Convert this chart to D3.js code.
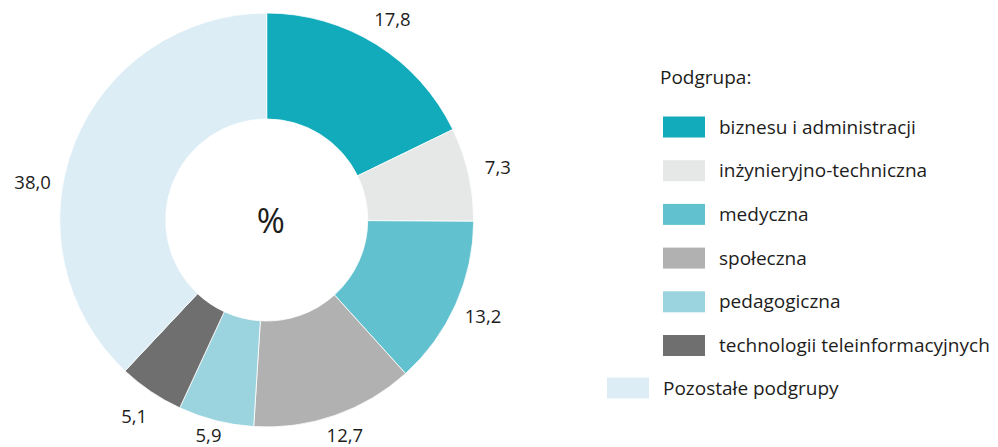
<!DOCTYPE html>
<html>
<head>
<meta charset="utf-8">
<script src="https://cdn.jsdelivr.net/npm/d3@7"></script>
<style>
  body { margin: 0; background: #fff; }
  svg text { font-family: "Open Sans", "Noto Sans", sans-serif; fill: #1d1d1b; }
</style>
</head>
<body>
<svg id="chart" width="998" height="447"></svg>
<script>
// podgrupy (kolejność zgodnie z ruchem wskazówek zegara od góry)
var categories = [
  'biznesu i administracji',
  'inżynieryjno-techniczna',
  'medyczna',
  'społeczna',
  'pedagogiczna',
  'technologii teleinformacyjnych',
  'Pozostałe podgrupy'
];
var values = [17.8, 7.3, 13.2, 12.7, 5.9, 5.1, 38.0];
var colors = ['#12abbb', '#e6e8e7', '#62c1ce', '#b1b1b1', '#9bd3de', '#6f6f6f', '#dcedf5'];

var svg = d3.select('#chart');

var cx = 266.7, cy = 220,
    outerR = 207, innerR = 101, labelR = 237,
    maxLabelY = 216;   // dolne etykiety nie wychodzą poza obraz

var color = d3.scaleOrdinal().domain(categories).range(colors);

var pie = d3.pie().sort(null).value(function(d) { return d.value; });
var arc = d3.arc().innerRadius(innerR).outerRadius(outerR);

var data = categories.map(function(c, i) { return { name: c, value: values[i] }; });
var arcs = pie(data);
var maxVal = d3.max(values);

var g = svg.append('g').attr('transform', 'translate(' + cx + ',' + cy + ')');

g.selectAll('path.slice')
  .data(arcs)
  .enter().append('path')
  .attr('class', 'slice')
  .attr('d', arc)
  .attr('fill', function(d) { return color(d.data.name); })
  .attr('stroke', '#fff')
  .attr('stroke-width', 0.8);

var fmt = function(v) { return d3.format('.1f')(v).replace('.', ','); };

// etykieta dużego wycinka jest przesunięta bliżej poziomu, jak w oryginale
function labelPos(d) {
  var a = (d.startAngle + d.endAngle) / 2;
  if (d.data.value === maxVal) a -= 0.22;
  return [labelR * Math.sin(a), Math.min(maxLabelY, -labelR * Math.cos(a))];
}

g.selectAll('text.val')
  .data(arcs)
  .enter().append('text')
  .attr('class', 'val')
  .attr('transform', function(d) { return 'translate(' + labelPos(d) + ')'; })
  .attr('text-anchor', 'middle')
  .attr('dy', '0.35em')
  .style('font-size', '18.5px')
  .text(function(d) { return fmt(d.data.value); });

g.append('text')
  .attr('x', 4)
  .attr('y', 1)
  .attr('dy', '0.35em')
  .attr('text-anchor', 'middle')
  .style('font-size', '34px')
  .text('%');

// legenda
var legend = svg.append('g');

legend.append('text')
  .attr('x', 660)
  .attr('y', 84)
  .style('font-size', '19px')
  .text('Podgrupa:');

var rowY = d3.scalePoint().domain(categories.slice(0, 6)).range([127, 345.5]);

var rows = legend.selectAll('g.row')
  .data(categories.slice(0, 6))
  .enter().append('g')
  .attr('class', 'row')
  .attr('transform', function(d) { return 'translate(663,' + rowY(d) + ')'; });

rows.append('rect')
  .attr('x', 0).attr('y', -10.5)
  .attr('width', 42).attr('height', 21)
  .attr('fill', function(d) { return color(d); });

rows.append('text')
  .attr('x', 56)
  .attr('dy', '0.35em')
  .style('font-size', '19px')
  .text(function(d) { return d; });

var other = legend.append('g').attr('transform', 'translate(607,388)');
other.append('rect')
  .attr('x', 0).attr('y', -10.5)
  .attr('width', 42).attr('height', 21)
  .attr('fill', color(categories[6]));
other.append('text')
  .attr('x', 56)
  .attr('dy', '0.35em')
  .style('font-size', '19px')
  .text(categories[6]);
</script>
</body>
</html>
